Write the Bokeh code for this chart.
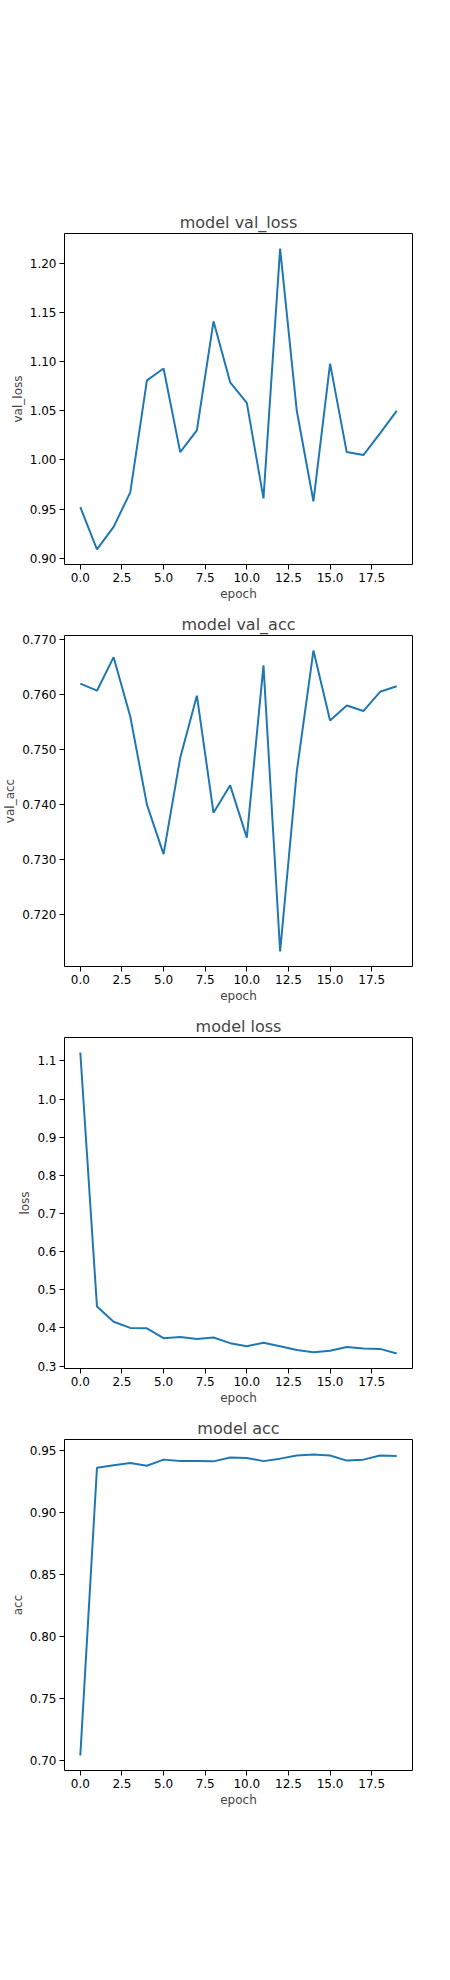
from bokeh.plotting import figure
from bokeh.layouts import column
from bokeh.models import Spacer, FixedTicker, NumeralTickFormatter, Range1d
from bokeh.embed import file_html
from bokeh.resources import INLINE

epochs = list(range(20))
val_loss = [0.952, 0.909, 0.932, 0.967, 1.081, 1.093, 1.008, 1.030, 1.141, 1.079,
            1.058, 0.961, 1.215, 1.050, 0.958, 1.098, 1.008, 1.005, 1.027, 1.050]
val_acc = [0.762, 0.7607, 0.7668, 0.756, 0.740, 0.731, 0.7485, 0.7598, 0.7385, 0.7435,
           0.734, 0.7653, 0.7133, 0.746, 0.768, 0.7553, 0.758, 0.757, 0.7605, 0.7615]
loss = [1.122, 0.456, 0.416, 0.400, 0.399, 0.373, 0.376, 0.371, 0.375, 0.360,
        0.352, 0.361, 0.352, 0.342, 0.336, 0.340, 0.350, 0.346, 0.345, 0.333]
acc = [0.704, 0.936, 0.938, 0.9398, 0.9377, 0.9426, 0.9414, 0.9414, 0.9412, 0.9443,
       0.9439, 0.9414, 0.9434, 0.9459, 0.9467, 0.9459, 0.9418, 0.9426, 0.9459, 0.9455]
x_ticks = [0, 2.5, 5, 7.5, 10, 12.5, 15, 17.5]

panels = [
    ("model val_loss", "val_loss", val_loss, [0.90, 0.95, 1.00, 1.05, 1.10, 1.15, 1.20], "0.00"),
    ("model val_acc", "val_acc", val_acc, [0.72, 0.73, 0.74, 0.75, 0.76, 0.77], "0.000"),
    ("model loss", "loss", loss, [0.3, 0.4, 0.5, 0.6, 0.7, 0.8, 0.9, 1.0, 1.1], "0.0"),
    ("model acc", "acc", acc, [0.70, 0.75, 0.80, 0.85, 0.90, 0.95], "0.00"),
]

FONT = "DejaVu Sans"
figs = [Spacer(width=434, height=207)]
for title, ylabel, ys, yt, fmt in panels:
    lo, hi = min(ys), max(ys)
    pad = (hi - lo) * 0.05
    p = figure(title=title, frame_width=348, frame_height=331,
               min_border_left=40, min_border_right=37, min_border_top=26, min_border_bottom=45,
               x_range=Range1d(-0.95, 19.95), y_range=Range1d(lo - pad, hi + pad),
               output_backend="svg", toolbar_location=None)
    p.line(epochs, ys, line_color="#1f77b4", line_width=2)
    p.title.align = "center"
    p.title.text_font = FONT
    p.title.text_font_size = "16px"
    p.title.text_font_style = "normal"
    p.title.standoff = 4
    p.xaxis.axis_label = "epoch"
    p.yaxis.axis_label = ylabel
    p.xaxis.ticker = FixedTicker(ticks=x_ticks)
    p.xaxis.formatter = NumeralTickFormatter(format="0.0")
    p.yaxis.ticker = FixedTicker(ticks=yt)
    p.yaxis.formatter = NumeralTickFormatter(format=fmt)
    for ax in (p.xaxis, p.yaxis):
        ax.major_label_text_font = FONT
        ax.major_label_text_font_size = "12px"
        ax.major_label_text_color = "black"
        ax.major_label_standoff = 3
        ax.axis_label_text_font = FONT
        ax.axis_label_text_font_size = "12px"
        ax.axis_label_text_font_style = "normal"
        ax.axis_label_standoff = 2
        ax.minor_tick_line_color = None
        ax.major_tick_out = 5
        ax.major_tick_in = 0
        ax.major_tick_line_color = "black"
        ax.axis_line_color = None
    p.xgrid.grid_line_color = None
    p.ygrid.grid_line_color = None
    p.outline_line_color = "black"
    p.outline_line_alpha = 1
    figs.append(p)

layout = column(*figs, spacing=0)
open("out.html", "w").write(file_html(layout, INLINE))
